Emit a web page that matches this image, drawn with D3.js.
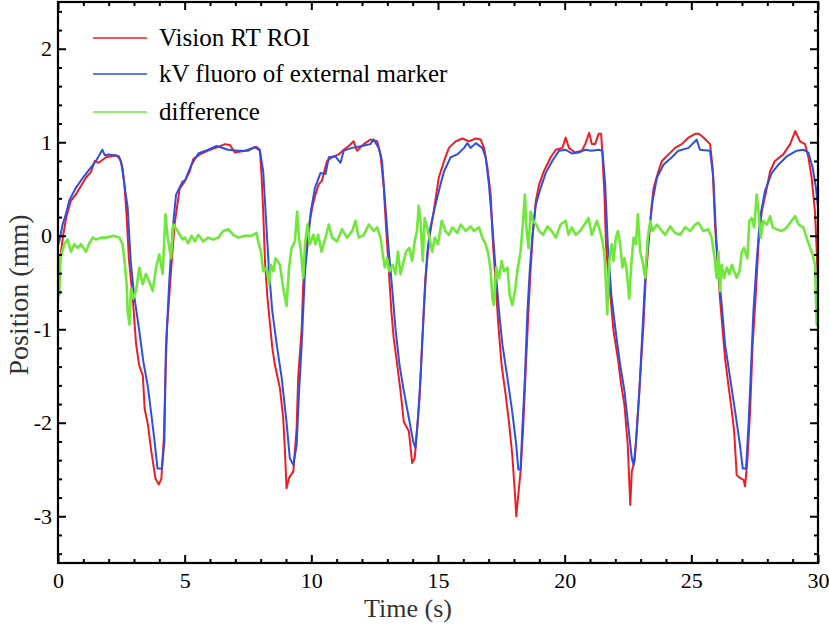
<!DOCTYPE html>
<html><head><meta charset="utf-8">
<script src="https://cdn.jsdelivr.net/npm/d3@7/dist/d3.min.js"></script>
<style>html,body{margin:0;padding:0;background:#fff}</style>
</head><body>
<svg id="c" width="829" height="626"></svg>
<script>
const seriesNames = ["Vision RT ROI", "kV fluoro of external marker", "difference"];
const xTicks = [0, 5, 10, 15, 20, 25, 30];
const yTicks = [-3, -2, -1, 0, 1, 2];

const redT = [0,0.05,0.12,0.2,0.32,0.5,0.7,0.9,1.1,1.3,1.45,1.6,1.9,2.1,2.3,2.45,2.55,2.62,2.7,2.8,2.95,3.08,3.2,3.35,3.42,3.55,3.68,3.85,3.98,4.08,4.18,4.24,4.3,4.45,4.6,4.8,5.0,
5.2,5.34,5.6,5.93,6.33,6.59,6.79,6.98,7.38,7.84,7.97,8.04,8.1,8.17,8.27,8.37,8.46,8.56,8.76,8.89,8.96,9.02,9.12,9.29,9.42,9.48,9.62,9.68,9.81,9.94,
10.05,10.16,10.29,10.42,10.62,10.82,11.08,11.28,11.48,11.67,11.8,12.07,12.33,12.6,12.73,12.86,12.95,13.06,13.16,13.25,13.39,13.52,13.65,13.85,13.98,14.08,14.17,14.27,14.37,14.5,14.66,14.83,
15.03,15.24,15.43,15.7,15.96,16.22,16.49,16.68,16.82,16.95,17.08,17.17,17.28,17.38,17.51,17.67,17.8,17.93,18.04,18.09,18.17,18.26,18.36,18.46,18.57,18.66,18.75,18.86,18.99,19.18,19.45,19.65,19.91,
20.04,20.17,20.41,20.68,20.81,20.97,21.07,21.2,21.34,21.44,21.49,21.57,21.63,21.7,21.8,21.93,22.1,22.23,22.36,22.49,22.59,22.65,22.76,22.85,22.98,23.11,23.2,23.31,23.41,23.51,23.7,23.84,24.1,24.36,24.62,24.89,
25.15,25.3,25.48,25.74,25.84,25.94,26.03,26.13,26.24,26.33,26.46,26.6,26.69,26.79,26.92,27.06,27.12,27.21,27.32,27.42,27.52,27.65,27.78,27.98,28.11,28.3,28.63,28.9,29.1,29.29,29.49,29.62,29.75,29.88,29.95,30.0];
const redV = [-0.72,-0.4,-0.17,0.0,0.19,0.37,0.44,0.53,0.62,0.68,0.8,0.78,0.84,0.85,0.86,0.82,0.72,0.55,0.25,-0.25,-0.67,-1.15,-1.38,-1.5,-1.85,-2.02,-2.3,-2.6,-2.66,-2.6,-2.15,-1.5,-1.0,-0.42,0.12,0.5,0.58,
0.69,0.82,0.87,0.91,0.95,0.98,0.97,0.89,0.91,0.95,0.92,0.62,0.26,-0.27,-0.67,-0.95,-1.2,-1.38,-1.63,-1.95,-2.31,-2.7,-2.59,-2.52,-2.06,-1.52,-0.99,-0.52,-0.09,0.16,
0.32,0.44,0.55,0.59,0.8,0.84,0.87,0.92,0.96,1.01,0.91,0.98,1.03,1.01,0.87,0.51,0.09,-0.38,-0.81,-1.09,-1.38,-1.66,-1.99,-2.09,-2.43,-2.38,-2.09,-1.74,-1.16,-0.45,-0.02,0.26,
0.62,0.8,0.94,1.01,1.04,1.01,1.04,1.03,0.94,0.73,0.44,-0.09,-0.52,-0.95,-1.38,-1.7,-1.99,-2.34,-2.77,-3.0,-2.77,-2.52,-2.06,-1.45,-0.81,-0.34,0.05,0.37,0.55,0.69,0.84,0.92,0.94,
1.05,0.94,0.89,0.91,0.98,1.1,0.98,0.98,1.09,1.09,0.87,0.44,-0.09,-0.34,-0.63,-1.02,-1.31,-1.59,-1.81,-2.24,-2.88,-2.52,-2.41,-2.06,-1.52,-0.95,-0.45,-0.09,0.26,0.51,0.69,0.8,0.87,0.94,0.98,1.05,
1.09,1.09,1.05,0.98,0.73,0.09,-0.27,-0.67,-1.02,-1.31,-1.59,-1.88,-2.09,-2.56,-2.59,-2.61,-2.68,-2.41,-1.88,-1.16,-0.74,-0.09,0.26,0.51,0.69,0.8,0.87,0.98,1.12,1.01,0.98,0.84,0.62,0.26,-0.17,-0.55];

const blueT = [0,0.05,0.18,0.3,0.45,0.7,0.98,1.24,1.5,1.75,1.85,2.0,2.2,2.4,2.5,2.75,2.87,3.0,3.2,3.37,3.54,3.67,3.8,3.93,4.1,4.2,4.26,4.4,4.53,4.66,4.92,
5.01,5.27,5.54,5.93,6.26,6.72,7.12,7.51,7.77,7.97,8.1,8.23,8.33,8.46,8.63,8.83,9.02,9.15,9.29,9.42,9.51,9.62,9.75,9.88,9.98,
10.14,10.36,10.56,10.69,10.95,11.15,11.28,11.61,12.0,12.33,12.46,12.66,12.79,12.92,13.06,13.19,13.32,13.48,13.65,13.85,14.02,14.11,14.21,14.31,14.44,14.57,14.7,14.9,
15.1,15.24,15.5,15.76,16.03,16.16,16.29,16.49,16.75,16.88,17.01,17.15,17.28,17.41,17.54,17.74,17.93,18.09,18.17,18.26,18.33,18.43,18.53,18.62,18.72,18.86,19.05,19.25,19.51,19.78,
20.04,20.28,20.55,20.81,21.07,21.34,21.49,21.6,21.7,21.84,22.0,22.19,22.36,22.52,22.65,22.72,22.81,22.94,23.07,23.18,23.31,23.47,23.64,23.9,24.23,24.49,24.89,
25.15,25.21,25.34,25.74,25.87,25.98,26.07,26.2,26.33,26.53,26.73,26.92,27.03,27.16,27.25,27.34,27.45,27.58,27.71,27.91,28.17,28.44,28.77,29.16,29.42,29.62,29.79,29.92,30.0];
const blueV = [-0.1,-0.06,0.12,0.22,0.38,0.51,0.62,0.71,0.8,0.92,0.86,0.87,0.86,0.85,0.78,0.3,-0.27,-0.63,-1.0,-1.35,-1.6,-1.88,-2.17,-2.49,-2.49,-2.2,-1.2,-0.45,0.08,0.44,0.58,
0.59,0.76,0.88,0.92,0.96,0.92,0.91,0.91,0.95,0.91,0.69,0.09,-0.38,-0.81,-1.16,-1.52,-1.99,-2.38,-2.45,-2.24,-1.7,-1.16,-0.38,-0.02,0.26,
0.51,0.67,0.66,0.84,0.85,0.78,0.91,0.94,0.96,0.98,1.03,0.94,0.8,0.33,-0.17,-0.56,-0.99,-1.38,-1.66,-1.95,-2.2,-2.27,-1.95,-1.52,-0.81,-0.2,0.09,0.33,
0.55,0.69,0.84,0.87,0.94,0.99,0.94,0.99,0.94,0.84,0.55,0.09,-0.38,-0.81,-1.16,-1.52,-1.88,-2.24,-2.5,-2.5,-2.06,-1.52,-0.81,-0.38,-0.02,0.33,0.51,0.67,0.8,0.91,
0.92,0.88,0.89,0.92,0.91,0.92,0.91,0.55,-0.09,-0.63,-0.99,-1.38,-1.66,-2.06,-2.38,-2.45,-2.24,-1.7,-1.02,-0.45,-0.02,0.37,0.62,0.76,0.84,0.91,0.94,
1.01,1.03,0.92,0.91,0.62,-0.02,-0.38,-0.74,-1.16,-1.52,-1.88,-2.24,-2.49,-2.49,-2.06,-1.52,-0.81,-0.27,0.19,0.48,0.67,0.76,0.85,0.91,0.92,0.89,0.73,0.51,0.3];

const diffT = [0,0.05,0.1,0.25,0.38,0.51,0.64,0.78,0.91,1.1,1.24,1.37,1.5,1.7,1.9,2.2,2.42,2.55,2.64,2.71,2.75,2.82,2.88,2.97,3.08,3.21,3.34,3.47,3.6,3.74,3.87,4.0,4.13,4.2,4.24,4.33,4.46,4.55,4.72,4.92,
5.01,5.14,5.27,5.4,5.54,5.73,5.93,6.13,6.33,6.52,6.72,6.92,7.12,7.38,7.64,7.84,7.9,8.01,8.1,8.23,8.33,8.4,8.5,8.59,8.76,8.89,9.02,9.12,9.22,9.35,9.44,9.51,9.59,9.68,9.75,9.85,9.94,
10.08,10.16,10.27,10.4,10.56,10.69,10.82,11.02,11.21,11.41,11.61,11.74,11.87,12.07,12.27,12.46,12.6,12.73,12.82,12.9,12.99,13.08,13.21,13.32,13.42,13.52,13.61,13.74,13.87,13.98,14.08,14.17,14.24,14.31,14.4,14.47,14.57,14.66,14.77,14.87,15.0,
15.15,15.3,15.43,15.57,15.76,15.9,16.09,16.29,16.42,16.62,16.75,16.88,16.99,17.08,17.15,17.21,17.3,17.41,17.51,17.61,17.74,17.83,17.93,18.04,18.13,18.26,18.36,18.43,18.49,18.57,18.66,18.75,18.88,18.99,19.15,19.32,19.49,19.65,19.84,
20.04,20.15,20.28,20.44,20.61,20.78,20.94,21.07,21.27,21.4,21.49,21.57,21.63,21.68,21.76,21.86,21.93,22.02,22.1,22.19,22.28,22.36,22.45,22.55,22.63,22.72,22.81,22.89,22.98,23.07,23.18,23.28,23.38,23.47,23.64,23.84,23.97,24.16,24.36,24.56,24.76,24.95,
25.15,25.28,25.48,25.67,25.8,25.9,26.0,26.07,26.13,26.2,26.29,26.4,26.5,26.6,26.69,26.79,26.9,26.99,27.08,27.21,27.29,27.38,27.48,27.58,27.65,27.74,27.84,27.98,28.11,28.21,28.37,28.57,28.77,28.96,29.1,29.23,29.42,29.55,29.69,29.79,29.88,29.95,30.0];
const diffV = [-0.5,-0.63,-0.24,-0.09,-0.04,-0.17,-0.09,-0.13,-0.09,-0.17,-0.08,-0.02,-0.04,-0.02,-0.02,0.0,-0.02,-0.09,-0.31,-0.52,-0.81,-0.95,-0.56,-0.67,-0.59,-0.34,-0.52,-0.41,-0.49,-0.59,-0.34,-0.2,-0.41,-0.02,0.23,-0.02,-0.24,0.12,0.05,-0.04,
-0.02,-0.08,0.0,-0.06,0.01,-0.06,-0.02,-0.04,-0.02,0.05,0.07,0.01,-0.02,0.0,0.0,0.03,-0.06,-0.17,-0.38,-0.34,-0.52,-0.31,-0.38,-0.24,-0.31,-0.56,-0.75,-0.34,-0.13,-0.06,0.26,-0.02,-0.17,-0.45,-0.09,0.12,-0.09,
0.01,-0.09,0.01,-0.17,-0.02,0.12,-0.02,-0.06,0.07,-0.02,0.05,0.16,-0.02,0.01,0.12,0.05,0.09,-0.02,-0.2,-0.34,-0.24,-0.38,-0.31,-0.41,-0.17,-0.41,-0.31,-0.17,-0.13,-0.27,-0.06,0.05,0.32,0.16,-0.27,0.19,0.09,-0.02,-0.17,-0.02,-0.09,
0.16,0.05,0.01,0.09,0.03,0.12,0.05,0.1,0.05,0.09,-0.02,-0.09,-0.2,-0.38,-0.67,-0.74,-0.34,-0.45,-0.27,-0.38,-0.34,-0.63,-0.74,-0.59,-0.38,-0.17,0.16,0.44,0.09,-0.13,0.26,0.16,0.12,0.05,0.01,0.1,0.05,-0.02,0.12,
0.16,0.01,0.09,0.01,0.05,0.12,0.19,0.01,0.16,0.05,-0.06,-0.2,-0.52,-0.84,-0.27,-0.09,-0.27,-0.02,0.05,-0.09,-0.34,-0.24,-0.38,-0.67,-0.31,-0.02,-0.09,0.23,-0.17,-0.27,-0.45,-0.02,0.16,0.05,0.12,0.05,0.01,0.1,0.03,0.01,0.09,0.05,
0.12,0.14,0.05,0.07,-0.02,-0.2,-0.45,-0.17,-0.59,-0.31,-0.45,-0.34,-0.41,-0.31,-0.38,-0.45,-0.38,-0.17,-0.13,-0.24,0.16,0.19,0.09,0.44,0.26,-0.02,0.16,0.12,0.21,0.09,0.07,0.05,0.09,0.16,0.21,0.12,0.09,-0.02,-0.13,-0.2,-0.31,-0.95,-0.9];

const colors = ["#ee1d25", "#2f4fe0", "#6fe83a"];
const m = {left: 58, right: 818, top: 2, bottom: 563};
const svg = d3.select("#c");
const x = d3.scaleLinear().domain([0, 30]).range([m.left, m.right]);
const y = d3.scaleLinear().domain([-3.5, 2.5]).range([m.bottom, m.top]);
const font = "'Liberation Serif','Times New Roman',serif";
const fmt = d => String(d);

const series = [
  {t: redT, v: redV, c: colors[0], w: 2},
  {t: blueT, v: blueV, c: colors[1], w: 2},
  {t: diffT, v: diffV, c: colors[2], w: 2.6}
];
const line = d3.line().x(d => x(d[0])).y(d => y(d[1]));
const g = svg.append("g");
series.forEach(s => {
  const pts = s.t.map((t, i) => [t, s.v[i]]);
  g.append("path").datum(pts).attr("d", line)
    .attr("fill", "none").attr("stroke", s.c).attr("stroke-width", s.w)
    .attr("stroke-linejoin", "round");
});

function axisSet(axisGen, tr) {
  return svg.append("g").attr("transform", tr).call(axisGen)
    .call(a => a.select(".domain").remove());
}
const xMinor = d3.range(0, 31, 1).filter(v => v % 5 !== 0);
const yMinor = d3.range(-34, 25, 2).map(v => v / 10).filter(v => Math.abs(v - Math.round(v)) > 1e-6);
axisSet(d3.axisBottom(x).tickValues(xTicks).tickSize(-8).tickPadding(9).tickFormat(fmt), `translate(0,${m.bottom})`);
axisSet(d3.axisBottom(x).tickValues(xMinor).tickSize(-4).tickFormat(""), `translate(0,${m.bottom})`);
axisSet(d3.axisTop(x).tickValues(xTicks).tickSize(-8).tickFormat(""), `translate(0,${m.top})`);
axisSet(d3.axisTop(x).tickValues(xMinor).tickSize(-4).tickFormat(""), `translate(0,${m.top})`);
axisSet(d3.axisLeft(y).tickValues(yTicks).tickSize(-8).tickPadding(6).tickFormat(fmt), `translate(${m.left},0)`);
axisSet(d3.axisLeft(y).tickValues(yMinor).tickSize(-4).tickFormat(""), `translate(${m.left},0)`);
axisSet(d3.axisRight(y).tickValues(yTicks).tickSize(-8).tickFormat(""), `translate(${m.right},0)`);
axisSet(d3.axisRight(y).tickValues(yMinor).tickSize(-4).tickFormat(""), `translate(${m.right},0)`);

svg.selectAll(".tick line").attr("stroke", "#000").attr("stroke-width", 2);
svg.selectAll(".tick text").attr("font-family", font).attr("font-size", 22).attr("fill", "#000");

svg.append("rect").attr("x", m.left).attr("y", m.top)
  .attr("width", m.right - m.left).attr("height", m.bottom - m.top)
  .attr("fill", "none").attr("stroke", "#000").attr("stroke-width", 2.2);

svg.append("text").attr("x", 408).attr("y", 617).attr("text-anchor", "middle")
  .attr("font-family", font).attr("font-size", 26).attr("fill", "#333").text("Time (s)");
svg.append("text").attr("transform", "translate(28,295) rotate(-90)").attr("text-anchor", "middle")
  .attr("font-family", font).attr("font-size", 28).attr("fill", "#333").text("Position (mm)");

const legY = [38, 74, 112];
seriesNames.forEach((n, i) => {
  svg.append("line").attr("x1", 93).attr("x2", 147).attr("y1", legY[i]).attr("y2", legY[i])
    .attr("stroke", colors[i]).attr("stroke-width", 1.6);
  svg.append("text").attr("x", 159).attr("y", legY[i] + 8).attr("font-family", font)
    .attr("font-size", 25).attr("fill", "#000").text(n);
});
</script>
</body></html>
